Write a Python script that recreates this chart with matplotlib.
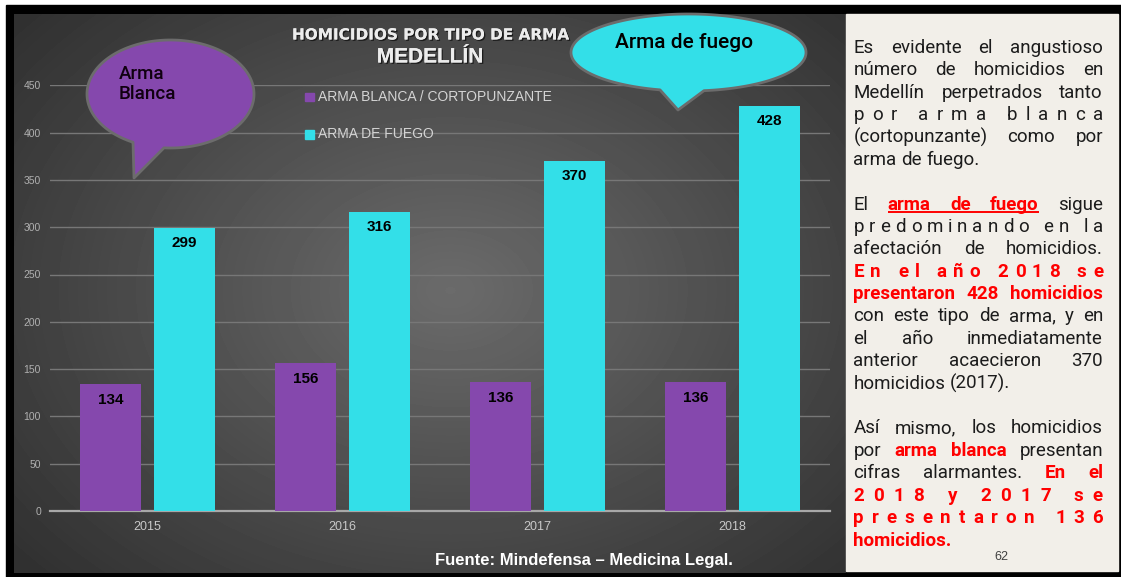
import numpy as np
import matplotlib
matplotlib.use("Agg")
import matplotlib.pyplot as plt
from matplotlib.patches import Rectangle, Polygon
import matplotlib.patheffects as pe
from matplotlib import font_manager

# ---- datos ----
years = ['2015', '2016', '2017', '2018']
arma_blanca = [134, 156, 136, 136]
arma_fuego = [299, 316, 370, 428]
series = ['ARMA BLANCA / CORTOPUNZANTE', 'ARMA DE FUEGO']
yticks = [0, 50, 100, 150, 200, 250, 300, 350, 400, 450]
title1 = 'HOMICIDIOS POR TIPO DE ARMA'
title2 = 'MEDELLÍN'
fuente = 'Fuente: Mindefensa – Medicina Legal.'
pagina = '62'
burbuja_blanca = 'Arma\nBlanca'
burbuja_fuego = 'Arma de fuego'

# lines of the side text: (mode, [(text, style)]); mode w=justify words, c=spread letters, l=left
texto = [
    ('w', [('Es evidente el angustioso', 'n')]),
    ('w', [('número de homicidios en', 'n')]),
    ('w', [('Medellín perpetrados tanto', 'n')]),
    ('c', [('por arma blanca', 'n')]),
    ('w', [('(cortopunzante) como por', 'n')]),
    ('l', [('arma de fuego.', 'n')]),
    None,
    ('w', [('El', 'n'), ('arma de fuego', 'u'), ('sigue', 'n')]),
    ('c', [('predominando en la', 'n')]),
    ('w', [('afectación de homicidios.', 'n')]),
    ('c', [('En el año 2018 se', 'r')]),
    ('w', [('presentaron 428 homicidios', 'r')]),
    ('w', [('con este tipo de arma, y en', 'n')]),
    ('w', [('el año inmediatamente', 'n')]),
    ('w', [('anterior acaecieron 370', 'n')]),
    ('l', [('homicidios (2017).', 'n')]),
    None,
    ('w', [('Así mismo, los homicidios', 'n')]),
    ('w', [('por', 'n'), ('arma blanca', 'r'), ('presentan', 'n')]),
    ('w', [('cifras alarmantes.', 'n'), ('En el', 'r')]),
    ('c', [('2018 y 2017 se', 'r')]),
    ('c', [('presentaron 136', 'r')]),
    ('l', [('homicidios.', 'r')]),
]

PURPLE = '#8548ad'
CYAN = '#33dfe8'
RED = '#ff0000'

installed = {f.name for f in font_manager.fontManager.ttflist}
BODY = 'Liberation Sans Narrow' if 'Liberation Sans Narrow' in installed else 'Roboto'
plt.rcParams['font.family'] = ['Liberation Sans', 'DejaVu Sans']

W, H = 1121, 577
fig = plt.figure(figsize=(W / 100, H / 100), dpi=100, facecolor='white')

# background: frame, gradient panel, text panel (pixel coords)
bg = fig.add_axes([0, 0, 1, 1])
bg.set_xlim(0, W); bg.set_ylim(H, 0); bg.axis('off')
bg.add_patch(Rectangle((6, 5), W - 6, H - 5, color='black', zorder=1))
gx0, gx1, gy0, gy1 = 14, 846, 14, 573
yy, xx = np.mgrid[gy0:gy1, gx0:gx1]
r = np.sqrt(((xx - 450) / 520) ** 2 + ((yy - 290) / 380) ** 2)
img = np.clip(0.42 - 0.21 * r, 0.19, 0.45)
bg.imshow(img, cmap='gray', vmin=0, vmax=1, extent=(gx0, gx1, gy1, gy0),
          interpolation='bilinear', aspect='auto', zorder=2)
bg.set_xlim(0, W); bg.set_ylim(H, 0)
bg.add_patch(Rectangle((846, 14), 1118 - 846, 571 - 14, color='#f2efe9', zorder=3))

# ---- bar chart ----
x0px, x1px, y0px, ytop = 50, 830, 511, 85.3
ax = fig.add_axes([x0px / W, (H - y0px) / H, (x1px - x0px) / W, (y0px - ytop) / H])
ax.patch.set_alpha(0)
x = np.arange(len(years))
bw, off = 0.313, 0.19
b1 = ax.bar(x - off, arma_blanca, bw, color=PURPLE, zorder=3)
b2 = ax.bar(x + off, arma_fuego, bw, color=CYAN, zorder=3)
for bars, vals in ((b1, arma_blanca), (b2, arma_fuego)):
    for rect, v in zip(bars, vals):
        ax.annotate(str(v), (rect.get_x() + rect.get_width() / 2, v), xytext=(0, -11),
                    textcoords='offset points', ha='center', va='center',
                    fontsize=11, fontweight='bold', color='black', zorder=4)
ax.set_xlim(-0.5, 3.5); ax.set_ylim(0, 450)
ax.set_yticks(yticks)
ax.set_xticks(x, years)
ax.grid(axis='y', color='#777777', lw=1, zorder=0)
ax.set_axisbelow(True)
for s in ('top', 'right', 'left'):
    ax.spines[s].set_visible(False)
ax.spines['bottom'].set_color('#a8a8a8'); ax.spines['bottom'].set_linewidth(1.6)
ax.tick_params(axis='y', length=0, pad=6.5, labelsize=7.5, labelcolor='#b0b0b0')
ax.tick_params(axis='x', length=0, pad=7, labelsize=9, labelcolor='#c8c8c8')

# ---- overlay: titles, legend, bubbles, side text ----
ov = fig.add_axes([0, 0, 1, 1], zorder=10)
ov.set_xlim(0, W); ov.set_ylim(H, 0); ov.axis('off'); ov.patch.set_alpha(0)
shadow = [pe.withSimplePatchShadow(offset=(1, -1), shadow_rgbFace='black', alpha=0.6), pe.Normal()]
ov.text(430, 35, title1, ha='center', va='center', fontsize=11, fontweight='bold',
        color='#ececec', family='DejaVu Sans', path_effects=shadow)
ov.text(430, 57, title2, ha='center', va='center', fontsize=15, fontweight='bold',
        color='#ececec', path_effects=shadow)
for i, (name, col) in enumerate(zip(series, (PURPLE, CYAN))):
    yc = 97 + 37.5 * i
    ov.add_patch(Rectangle((305, yc - 4.5), 8.5, 8.5, color=col))
    ov.text(318, yc, name, ha='left', va='center', fontsize=10, color='#d4d4d4')


def bubble(cx, cy, a, b, xl, xr, tip, color):
    tl = np.arccos(np.clip((xl - cx) / a, -1, 1))
    tr = np.arccos(np.clip((xr - cx) / a, -1, 1))
    t = np.linspace(tl, 2 * np.pi + tr, 300)
    pts = np.column_stack([cx + a * np.cos(t), cy + b * np.sin(t)])
    pts = np.vstack([pts, tip])
    ov.add_patch(Polygon(pts, closed=True, facecolor=color, edgecolor='#6c6c6c', lw=2, joinstyle='round'))


bubble(170.5, 94, 83.5, 54, 133, 164, (134, 178), PURPLE)
ov.text(119, 84, burbuja_blanca, ha='left', va='center', fontsize=13.5, color='#100010',
        family=['Roboto', 'DejaVu Sans'], fontweight='medium', linespacing=1.15)
bubble(688.5, 52.5, 117.5, 38.5, 660, 704, (678, 110), CYAN)
ov.text(684, 43, burbuja_fuego, ha='center', va='center', fontsize=15, color='black',
        family=['Roboto', 'DejaVu Sans'], fontweight='medium')

ov.text(584, 560, fuente, ha='center', va='center', fontsize=12, fontweight='bold', color='white')
ov.text(1001, 557, pagina, ha='center', va='center', fontsize=9, color='#404040')

# justified side text
rend = fig.canvas.get_renderer()
FS = 13.5
styles = {
    'n': dict(fontsize=FS, color='#1c1c1c', family=[BODY, 'DejaVu Sans']),
    'r': dict(fontsize=FS, color=RED, fontweight='bold', family=[BODY, 'DejaVu Sans']),
    'u': dict(fontsize=FS, color=RED, fontweight='bold', family=[BODY, 'DejaVu Sans']),
}


def width(s, st):
    t = ov.text(0, 0, s, **styles[st])
    w = t.get_window_extent(renderer=rend).width
    t.remove()
    return w


def space(st):
    return width('a a', st) - width('aa', st)


LX, RX = 853.5, 1103
base, lh = 52.7, 22.4
for k, line in enumerate(texto):
    if line is None:
        continue
    yb = base + k * lh
    mode, segs = line
    if mode == 'c':
        chars = [(ch, st) for s, st in segs for ch in s]
        ws = [space(st) if ch == ' ' else width(ch, st) for ch, st in chars]
        extra = (RX - LX - sum(ws)) / (len(chars) - 1)
        xp = LX
        for (ch, st), w in zip(chars, ws):
            if ch != ' ':
                ov.text(xp, yb, ch, ha='left', va='baseline', **styles[st])
            xp += w + extra
        continue
    units = [(wd, st) for s, st in segs for wd in s.split(' ')]
    ws = [width(wd, st) for wd, st in units]
    if mode == 'w' and len(units) > 1:
        gap = max((RX - LX - sum(ws)) / (len(units) - 1), 2)
    else:
        gap = space('n')
    xp = LX
    ux = []
    for (wd, st), w in zip(units, ws):
        ov.text(xp, yb, wd, ha='left', va='baseline', **styles[st])
        if st == 'u':
            ux += [xp, xp + w]
        xp += w + gap
    if ux:
        ov.plot([min(ux), max(ux)], [yb + 2.5, yb + 2.5], color=RED, lw=1.4, solid_capstyle='butt')

fig.savefig('out.png', dpi=100, facecolor='white')
